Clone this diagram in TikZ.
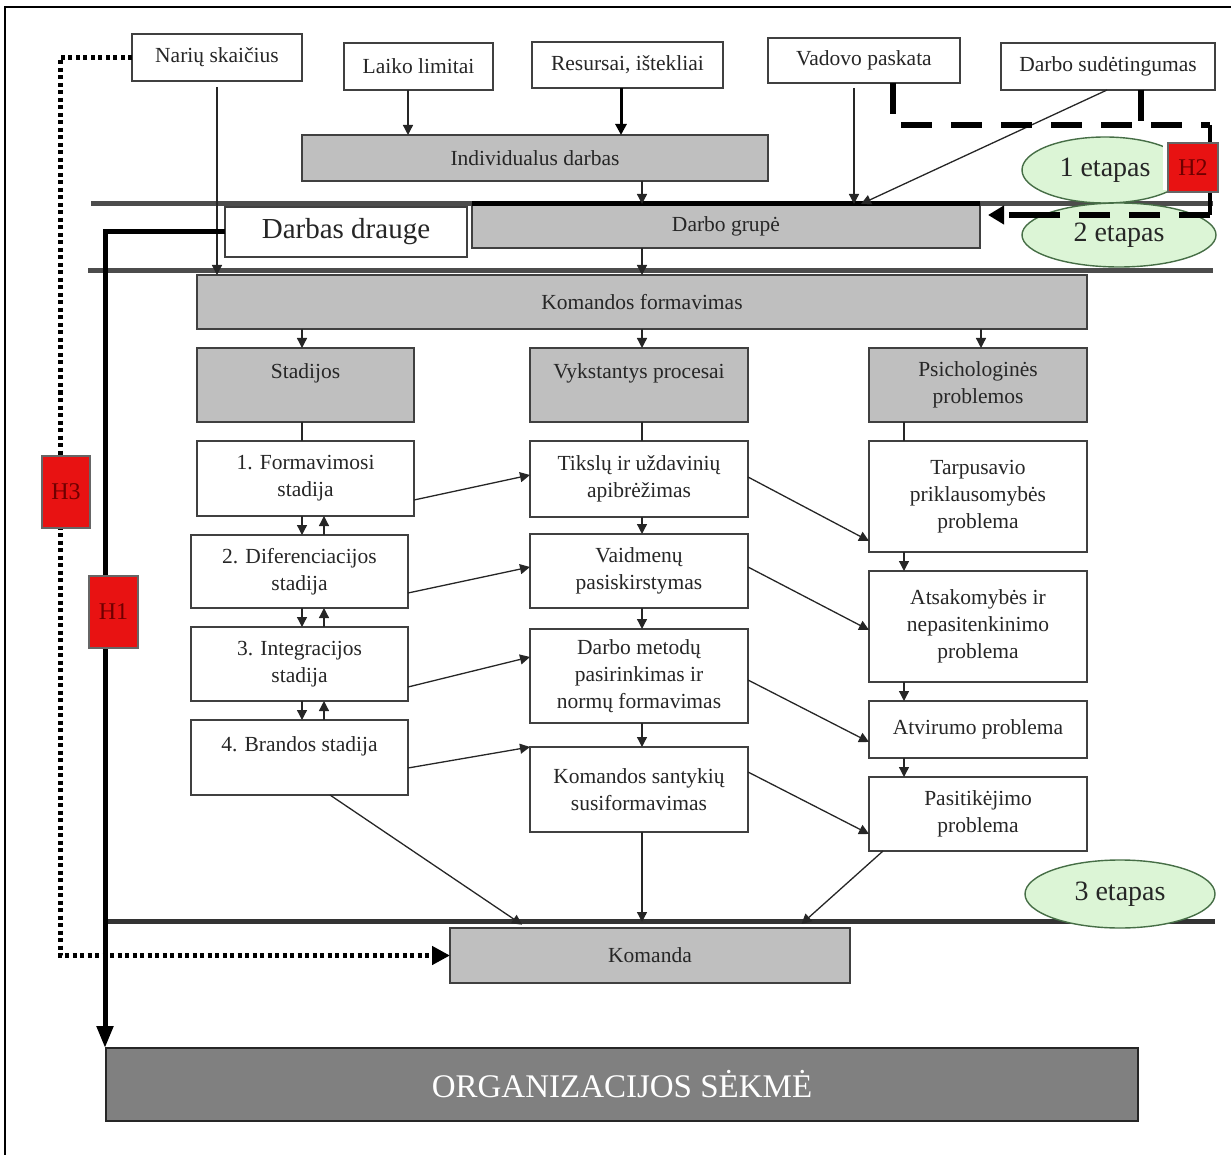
\documentclass[tikz,border=0pt]{standalone}
\usepackage{fontspec}
\setmainfont{Liberation Serif}
\usetikzlibrary{arrows.meta,shapes.geometric}
\definecolor{ellfill}{RGB}{220,245,214}
\definecolor{elldraw}{RGB}{70,110,70}
\definecolor{hred}{RGB}{232,18,18}
\definecolor{htext}{RGB}{110,0,0}
\newcommand{\mkbox}[7]{\node[#2, minimum width={(#5-#3)*1pt}, minimum height={(#6-#4)*1pt}] (#1) at ({(#3+#5)/2},{(#4+#6)/2}) {#7};}
\tikzset{
  base/.style={inner sep=0pt, outer sep=0pt, align=center, font=\fontsize{21.5}{27}\selectfont, text=black!85, line width=1.7pt},
  wbox/.style={base, draw=black!75, fill=white},
  gbox/.style={base, draw=black!75, fill=black!25},
  orgbox/.style={base, draw=black!85, fill=black!50, text=white, font=\fontsize{33}{36}\selectfont},
  ell/.style={ellipse, inner sep=0pt, draw=elldraw, fill=ellfill, line width=1.4pt, font=\fontsize{28}{32}\selectfont, text=black!85},
  hbox/.style={base, draw=black!60, fill=hred, text=htext, font=\fontsize{24}{28}\selectfont, line width=1.2pt},
  arr/.style={line width=1.3pt, draw=black!85, -{Triangle[length=10pt,width=10pt]}},
  plain/.style={line width=1.3pt, draw=black!85},
  thickarr/.style={line width=3pt, -{Triangle[length=11pt,width=11pt]}},
  hline/.style={line width=5pt, draw=black!70},
  hone/.style={line width=5pt, -{Triangle[length=22pt,width=16pt]}},
  hthree/.style={line width=5pt, dash pattern=on 4pt off 3.5pt, -{Triangle[length=18pt,width=18pt]}},
  htwo/.style={line width=6pt, dash pattern=on 31pt off 19pt},
}
\begin{document}
\begin{tikzpicture}[x=1pt,y=-1pt]
\useasboundingbox (0,0) rectangle (1231,1155);
% frame
\draw[line width=2.5pt] (5,1155) -- (5,7) -- (1231,7);
% horizontal stage lines
\draw[hline] (91,204) -- (1213,204);
\draw[hline] (88,271) -- (1213,271);
\draw[line width=5pt, draw=black!80] (105,921) -- (1215,921);
% top boxes
\mkbox{nar}{wbox}{132}{34}{302}{81}{Narių skaičius}
\mkbox{lai}{wbox}{344}{43}{493}{90}{Laiko limitai}
\mkbox{res}{wbox}{532}{42}{723}{88}{Resursai, ištekliai}
\mkbox{vad}{wbox}{768}{38}{960}{83}{Vadovo paskata}
\mkbox{sud}{wbox}{1001}{43}{1215}{90}{Darbo sudėtingumas}
\mkbox{ind}{gbox}{302}{135}{768}{181}{Individualus darbas}
\mkbox{dra}{wbox, font=\fontsize{29}{33}\selectfont}{225}{207}{467}{257}{Darbas drauge}
\mkbox{dgr}{gbox}{472}{204}{980}{248}{Darbo grupė}
\draw[line width=5pt] (dgr.north west) -- (dgr.north east);
\mkbox{kf}{gbox}{197}{275}{1087}{329}{Komandos formavimas}
% column heads
\mkbox{sta}{gbox}{197}{348}{414}{422}{Stadijos\\~}
\mkbox{vyk}{gbox}{530}{348}{748}{422}{Vykstantys procesai\\~}
\mkbox{psy}{gbox}{869}{348}{1087}{422}{Psichologinės\\problemos}
% stages
\mkbox{s1}{wbox}{197}{441}{414}{516}{1. Formavimosi\\stadija}
\mkbox{s2}{wbox}{191}{535}{408}{608}{2. Diferenciacijos\\stadija}
\mkbox{s3}{wbox}{191}{627}{408}{701}{3. Integracijos\\stadija}
\mkbox{s4}{wbox}{191}{720}{408}{795}{4. Brandos stadija\\~}
% processes
\mkbox{p1}{wbox}{530}{441}{748}{517}{Tikslų ir uždavinių\\apibrėžimas}
\mkbox{p2}{wbox}{530}{534}{748}{608}{Vaidmenų\\pasiskirstymas}
\mkbox{p3}{wbox}{530}{629}{748}{723}{Darbo metodų\\pasirinkimas ir\\normų formavimas}
\mkbox{p4}{wbox}{530}{747}{748}{832}{Komandos santykių\\susiformavimas}
% problems
\mkbox{q1}{wbox}{869}{441}{1087}{552}{Tarpusavio\\priklausomybės\\problema}
\mkbox{q2}{wbox}{869}{571}{1087}{682}{Atsakomybės ir\\nepasitenkinimo\\problema}
\mkbox{q3}{wbox}{869}{701}{1087}{758}{Atvirumo problema}
\mkbox{q4}{wbox}{869}{777}{1087}{851}{Pasitikėjimo\\problema}
% team and success
\mkbox{kom}{gbox}{450}{928}{850}{983}{Komanda}
\mkbox{org}{orgbox}{106}{1048}{1138}{1121}{ORGANIZACIJOS SĖKMĖ}
% stage ellipses
\node[ell, minimum width=166pt, minimum height=66pt] (e1) at (1105,170) {1 etapas};
\node[ell, minimum width=194pt, minimum height=64pt] (e2) at (1119,235) {2 etapas};
\node[ell, minimum width=190pt, minimum height=68pt] (e3) at (1120,894) {3 etapas};
% top connectors
\draw[arr, shorten <=6pt] (nar.south -| 217,0) -- (kf.north -| 217,0);
\draw[arr] (lai.south -| 408,0) -- (ind.north -| 408,0);
\draw[thickarr] (res.south -| 621,0) -- (ind.north -| 621,0);
\draw[arr] (ind.south -| 642,0) -- (dgr.north -| 642,0);
\draw[arr, shorten <=5pt] (vad.south -| 854,0) -- (dgr.north -| 854,0);
\draw[arr] (sud.south -| 1107,0) -- (dgr.north -| 861,0);
\draw[arr] (dgr.south -| 642,0) -- (kf.north -| 642,0);
\draw[arr] (kf.south -| 302,0) -- (sta.north -| 302,0);
\draw[arr] (kf.south -| 642,0) -- (vyk.north -| 642,0);
\draw[arr] (kf.south -| 981,0) -- (psy.north -| 981,0);
\draw[plain] (sta.south -| 302,0) -- (s1.north -| 302,0);
\draw[plain] (vyk.south -| 642,0) -- (p1.north -| 642,0);
\draw[plain] (psy.south -| 904,0) -- (q1.north -| 904,0);
% stage column
\draw[arr] (s1.south -| 302,0) -- (s2.north -| 302,0);
\draw[arr] (s2.north -| 324,0) -- (s1.south -| 324,0);
\draw[arr] (s2.south -| 302,0) -- (s3.north -| 302,0);
\draw[arr] (s3.north -| 324,0) -- (s2.south -| 324,0);
\draw[arr] (s3.south -| 302,0) -- (s4.north -| 302,0);
\draw[arr] (s4.north -| 324,0) -- (s3.south -| 324,0);
% process column
\draw[arr] (p1.south -| 642,0) -- (p2.north -| 642,0);
\draw[arr] (p2.south -| 642,0) -- (p3.north -| 642,0);
\draw[arr] (p3.south -| 642,0) -- (p4.north -| 642,0);
% problem column
\draw[arr] (q1.south -| 904,0) -- (q2.north -| 904,0);
\draw[arr] (q2.south -| 904,0) -- (q3.north -| 904,0);
\draw[arr] (q3.south -| 904,0) -- (q4.north -| 904,0);
% diagonals stage -> process
\draw[arr] (s1.east |- 0,500) -- (p1.west |- 0,475);
\draw[arr] (s2.east |- 0,593) -- (p2.west |- 0,567);
\draw[arr] (s3.east |- 0,687) -- (p3.west |- 0,657);
\draw[arr] (s4.east |- 0,768) -- (p4.west |- 0,747);
% diagonals process -> problem
\draw[arr] (p1.east |- 0,477) -- (q1.west |- 0,541);
\draw[arr] (p2.east |- 0,567) -- (q2.west |- 0,630);
\draw[arr] (p3.east |- 0,680) -- (q3.west |- 0,742);
\draw[arr] (p4.east |- 0,772) -- (q4.west |- 0,834);
% into team
\draw[arr, shorten >=6pt] (s4.south -| 330,0) -- (kom.north -| 527,0);
\draw[arr, shorten >=6pt] (p4.south -| 642,0) -- (kom.north -| 642,0);
\draw[arr, shorten >=6pt] (q4.south -| 883,0) -- (kom.north -| 797,0);
% H2 dashed route
\coordinate (h2a) at (893,125);
\coordinate (h2b) at (1210,125);
\coordinate (h2c) at (1210,215);
\draw[htwo] (vad.south -| h2a) -- (h2a) -- (h2b);
\draw[htwo] (sud.south -| 1141,0) -- (1141,125);
\draw[line width=3.5pt] (h2b) -- (h2c);
\draw[htwo] (h2c) -- (1040,215);
\draw[line width=6pt, dash pattern=on 31pt off 19pt, -{Triangle[length=16pt,width=18pt]}, shorten >=8pt] (1040,215) -- (dgr.east |- h2c);
\fill[white] (1163,145) rectangle (1170,190);
\mkbox{h2}{hbox}{1168}{143}{1218}{192}{H2}
% H1 thick route
\coordinate (h1a) at (105,232);
\draw[hone] (dra.west) -- (dra.west -| h1a) -- (org.north -| h1a);
\mkbox{h1}{hbox}{89}{576}{138}{648}{H1}
% H3 dotted route
\coordinate (h3a) at (60,60);
\draw[hthree] (nar.west) -- (nar.west -| h3a) -- (kom.west -| h3a) -- (kom.west);
\mkbox{h3}{hbox}{42}{456}{90}{528}{H3}
\end{tikzpicture}
\end{document}
